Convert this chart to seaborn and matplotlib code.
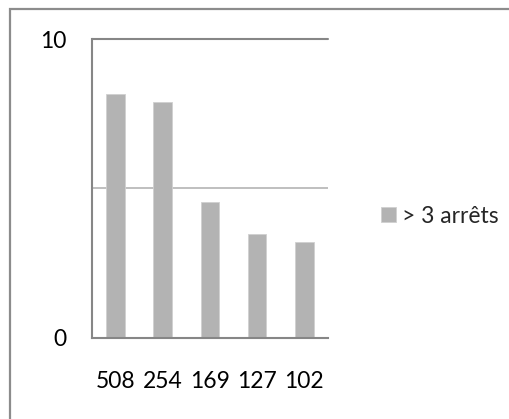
import matplotlib
matplotlib.use("Agg")
import matplotlib.pyplot as plt
import seaborn as sns
import pandas as pd
from matplotlib.patches import Rectangle
from matplotlib.ticker import FixedLocator

categories = ["508", "254", "169", "127", "102"]
values = [8.15, 7.88, 4.54, 3.46, 3.20]
series_name = "> 3 arrêts"
yticks = [0, 10]

sns.set_style("white")
plt.rcParams["font.family"] = ["Lato", "DejaVu Sans"]

W, H = 510, 419
FS = 16.5
fig = plt.figure(figsize=(W / 100, H / 100), dpi=100)
ax = fig.add_axes([91.7 / W, 1 - 337.7 / H, (328 - 91.7) / W, (337.7 - 39) / H])

df = pd.DataFrame({"cat": categories, "val": values})
sns.barplot(data=df, x="cat", y="val", order=categories, color="#b3b3b3",
            saturation=1, width=0.395, label=series_name, ax=ax,
            edgecolor="#d0d0d0", linewidth=0.6)

axis_col = "#868686"
ax.set_ylim(0, 10)
ax.set_xlim(-0.5, len(categories) - 0.5)
ax.set_xlabel("")
ax.set_ylabel("")
ax.set_yticks(yticks)
ax.set_yticklabels([str(t) for t in yticks])
ax.yaxis.set_minor_locator(FixedLocator([5]))
ax.grid(False)
ax.axhline(5, color="#b4b4b4", lw=1.2, zorder=0)
ax.axhline(10, color=axis_col, lw=1.5, zorder=0, clip_on=False)

for s in ["top", "right"]:
    ax.spines[s].set_visible(False)
for s in ["left", "bottom"]:
    ax.spines[s].set_color(axis_col)
    ax.spines[s].set_linewidth(1.5)

ax.xaxis.set_minor_locator(FixedLocator([i - 0.5 for i in range(len(categories) + 1)]))
ax.tick_params(axis="x", which="major", length=0, pad=24, labelsize=FS, colors="black")
ax.tick_params(axis="x", which="minor", length=6.5, width=1.2, color=axis_col, direction="out")
ax.tick_params(axis="y", which="major", length=6.5, width=1.2, color=axis_col,
               direction="out", pad=12, labelsize=FS, labelcolor="black")
ax.tick_params(axis="y", which="minor", length=0)

ax.legend(loc="center left", bbox_to_anchor=(370 / W, 1 - 216 / H),
          bbox_transform=fig.transFigure, frameon=False, fontsize=FS,
          handlelength=0.65, handleheight=0.65, handletextpad=0.25, borderpad=0)

fig.add_artist(Rectangle((10 / W, -0.1), 1.0, (H - 9) / H + 0.1, transform=fig.transFigure,
                         fill=False, edgecolor="#8c8c8c", lw=1.6))

fig.savefig("out.png", dpi=100)
